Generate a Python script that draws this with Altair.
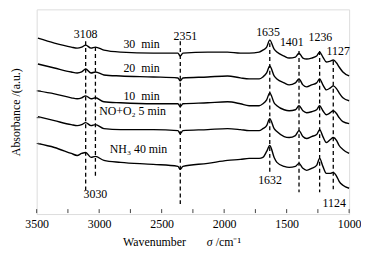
import altair as alt
import pandas as pd

FONT = "Liberation Serif"

wavenumber = [3490, 3358, 3223, 3176, 3140, 3108, 3065, 3030, 2962, 2828,
              2567, 2370, 2351, 2330, 2131, 1973, 1870, 1800, 1720, 1690,
              1660, 1635, 1600, 1578, 1520, 1480, 1430, 1401, 1370, 1340,
              1300, 1260, 1236, 1210, 1182, 1150, 1127, 1100, 1080, 1050,
              1000]

abs_30min = [177, 172, 168, 167, 168, 170, 167, 168, 165, 163,
             162, 162, 159, 162, 163, 163, 162, 162, 163, 165,
             168, 175, 166, 163, 159, 157, 158, 162, 157, 156,
             157, 159, 163, 158, 153, 154, 155, 152, 148, 143,
             139]
abs_20min = [151, 147, 143, 142, 143, 146, 142, 143, 140, 139,
             138, 137, 134, 137, 138, 139, 137, 136, 136, 138,
             142, 149, 139, 136, 132, 130, 132, 136, 130, 128,
             130, 132, 136, 130, 125, 127, 129, 126, 122, 117,
             114]
abs_10min = [124, 121, 117, 116, 117, 119, 116, 117, 113, 112,
             111, 111, 108, 111, 112, 113, 111, 109, 109, 111,
             115, 122, 112, 109, 105, 104, 105, 109, 104, 102,
             103, 105, 109, 104, 100, 102, 104, 101, 97, 93,
             91]
abs_no_o2 = [98, 94, 90, 89, 90, 92, 89, 90, 86, 85,
             85, 84, 81, 84, 85, 86, 85, 84, 84, 86,
             89, 96, 86, 83, 78, 77, 79, 84, 78, 76,
             78, 80, 85, 78, 72, 75, 77, 74, 69, 65,
             61]
abs_nh3 = [71, 67, 61, 59, 61, 62, 57, 58, 54, 52,
           50, 48, 45, 48, 51, 54, 55, 56, 56, 57,
           63, 69, 57, 52, 48, 47, 48, 51, 46, 44,
           46, 49, 56, 48, 41, 41, 42, 38, 33, 29,
           26]

series_names = ["30 min", "20 min", "10 min", "NO+O2 5 min", "NH3 40 min"]
series_values = [abs_30min, abs_20min, abs_10min, abs_no_o2, abs_nh3]

# dashed marker lines: position, top, bottom
dash_wn = [3108, 3030, 2351, 1635, 1401, 1236, 1127]
dash_top = [174, 168, 174, 172, 164, 164, 154]
dash_bottom = [24, 38, 10, 40, 22, 22, 25]

# annotations
ann_text = ["3108", "3030", "2351", "1635", "1401", "1236", "1127", "1632", "1124",
            "30\u2002min", "20\u2002min", "10\u2002min", "NO+O\u2082 5 min", "NH\u2083 40 min"]
ann_wn = [3108, 3030, 2310, 1649, 1459, 1230, 1087, 1633, 1119,
          2661, 2661, 2661, 2733, 2685]
ann_a = [181, 20, 179, 183, 173, 178, 164, 34, 11,
         171, 147, 119, 104, 65]

x_label_values = [3500, 3000, 2500, 2000, 1500, 1000]
x_tick_values = [3500, 3250, 3000, 2750, 2500, 2250, 2000, 1750, 1500, 1250, 1000]
y_tick_values = [124, 97, 71]

rows = []
for name, vals in zip(series_names, series_values):
    for w, v in zip(wavenumber, vals):
        rows.append({"series": name, "wn": w, "A": v})
df = pd.DataFrame(rows)
df_dash = pd.DataFrame({"wn": dash_wn, "top": dash_top, "bottom": dash_bottom})
df_ann = pd.DataFrame({"t": ann_text, "wn": ann_wn, "A": ann_a})
df_xt = pd.DataFrame({"wn": x_tick_values})
df_yt = pd.DataFrame({"A": y_tick_values})

x_scale = alt.Scale(domain=[1000, 3500], reverse=True, nice=False, zero=False)
y_scale = alt.Scale(domain=[0, 206], nice=False, zero=False)

lines = alt.Chart(df).mark_line(color="black", strokeWidth=1.4, interpolate="monotone").encode(
    x=alt.X("wn:Q", scale=x_scale,
            axis=alt.Axis(values=x_label_values, title=None, ticks=False, domain=False,
                          grid=False, labelFont=FONT, labelFontSize=12, labelPadding=5,
                          labelFlush=False, labelColor="black", format="d")),
    y=alt.Y("A:Q", scale=y_scale,
            axis=alt.Axis(title="Absorbance /(a.u.)", labels=False, ticks=False, domain=False,
                          grid=False, titleFont=FONT, titleFontSize=12, titleFontWeight="normal",
                          titlePadding=14, titleColor="black")),
    detail="series:N",
)

dashes = alt.Chart(df_dash).mark_rule(color="black", strokeWidth=1.3, strokeDash=[4, 3]).encode(
    x=alt.X("wn:Q", scale=x_scale),
    y=alt.Y("top:Q", scale=y_scale),
    y2="bottom:Q",
)

ann = alt.Chart(df_ann).mark_text(font=FONT, fontSize=12, color="black",
                                  align="center", baseline="middle").encode(
    x=alt.X("wn:Q", scale=x_scale),
    y=alt.Y("A:Q", scale=y_scale),
    text="t:N",
)

xticks = alt.Chart(df_xt).mark_rule(color="#444", strokeWidth=1).encode(
    x=alt.X("wn:Q", scale=x_scale),
    y=alt.value(206),
    y2=alt.value(202),
)

yticks = alt.Chart(df_yt).mark_rule(color="#444", strokeWidth=1).encode(
    y=alt.Y("A:Q", scale=y_scale),
    x=alt.value(0),
    x2=alt.value(4),
)

t1 = alt.Chart(pd.DataFrame({"t": ["Wavenumber"]})).mark_text(
    font=FONT, fontSize=12, color="black", align="right", baseline="middle").encode(
    text="t:N", x=alt.value(151), y=alt.value(235))
t2 = alt.Chart(pd.DataFrame({"t": ["\u03c3"]})).mark_text(
    font=FONT, fontSize=12, color="black", align="left", baseline="middle",
    fontStyle="italic").encode(text="t:N", x=alt.value(172), y=alt.value(235))
t3 = alt.Chart(pd.DataFrame({"t": ["/cm\u207b\u00b9"]})).mark_text(
    font=FONT, fontSize=12, color="black", align="left", baseline="middle").encode(
    text="t:N", x=alt.value(181), y=alt.value(235))

chart = alt.layer(lines, dashes, ann, xticks, yticks, t1, t2, t3).properties(
    width=316, height=207,
    autosize=alt.AutoSizeParams(type="none"),
    padding={"left": 29, "top": 0, "right": 12, "bottom": 39},
).configure_view(stroke="#555", strokeWidth=1).configure(background="white")

chart.save("out.html", embed_options={"renderer": "svg", "actions": False})
